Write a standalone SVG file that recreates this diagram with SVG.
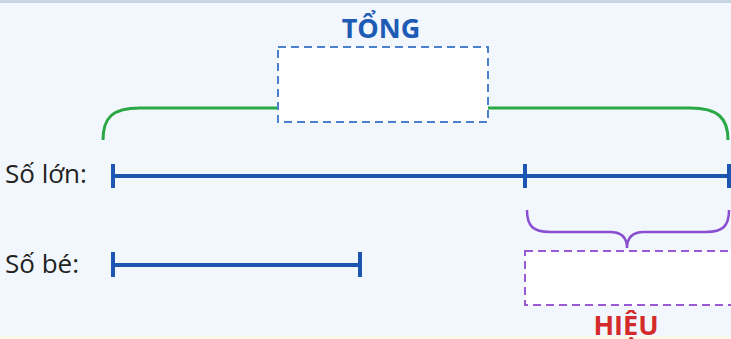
<svg xmlns="http://www.w3.org/2000/svg" width="731" height="339" viewBox="0 0 731 339">
<style>
.lbl{font-family:"Open Sans","Noto Sans","Liberation Sans",sans-serif;font-size:26px;fill:#222}
.seg{stroke:#1d56b0;stroke-width:4;fill:none;stroke-linecap:butt}
.title{font-family:"Open Sans","Liberation Sans",sans-serif;font-weight:bold;font-size:27px;text-anchor:middle}
</style>
<rect x="0" y="0" width="731" height="339" fill="#f1f7fc"/>
<rect x="0" y="0" width="731" height="3" fill="#c5d5e2"/>
<rect x="0" y="336" width="731" height="3" fill="#fbf8e8"/>
<g id="connectors">
<path d="M103,140 C103,118 112,108 140,108 L280,108 M486,108 L690,108 C718,108 728,118 728,140" fill="none" stroke="#2aa845" stroke-width="3"/>
<path d="M527,210 C527,226 533,232 550,232 L610,232 C622,232 627,238 627,248 C627,238 632,232 644,232 L706,232 C723,232 729,226 729,210" fill="none" stroke="#8a4fd0" stroke-width="2.5"/>
</g>
<g id="tong">
<text class="title" x="381" y="38" fill="#1e5bb5">TỔNG</text>
<rect x="278" y="47" width="210" height="75" fill="#ffffff" stroke="#4a80cc" stroke-width="2" stroke-dasharray="8,5"/>
</g>
<g id="so-lon">
<text class="lbl" x="5" y="183">Số lớn:</text>
<path class="seg" d="M113,176 H729 M113,164 V188 M525,164 V188 M729,164 V188"/>
</g>
<g id="so-be">
<text class="lbl" x="5" y="273">Số bé:</text>
<path class="seg" d="M113,265 H360 M113,252 V277 M360,252 V277"/>
</g>
<g id="hieu">
<rect x="525" y="251" width="215" height="54" fill="#ffffff" stroke="#9a5ad6" stroke-width="2" stroke-dasharray="8,5"/>
<text class="title" x="626" y="335" fill="#d42a2a">HIỆU</text>
</g>
</svg>
